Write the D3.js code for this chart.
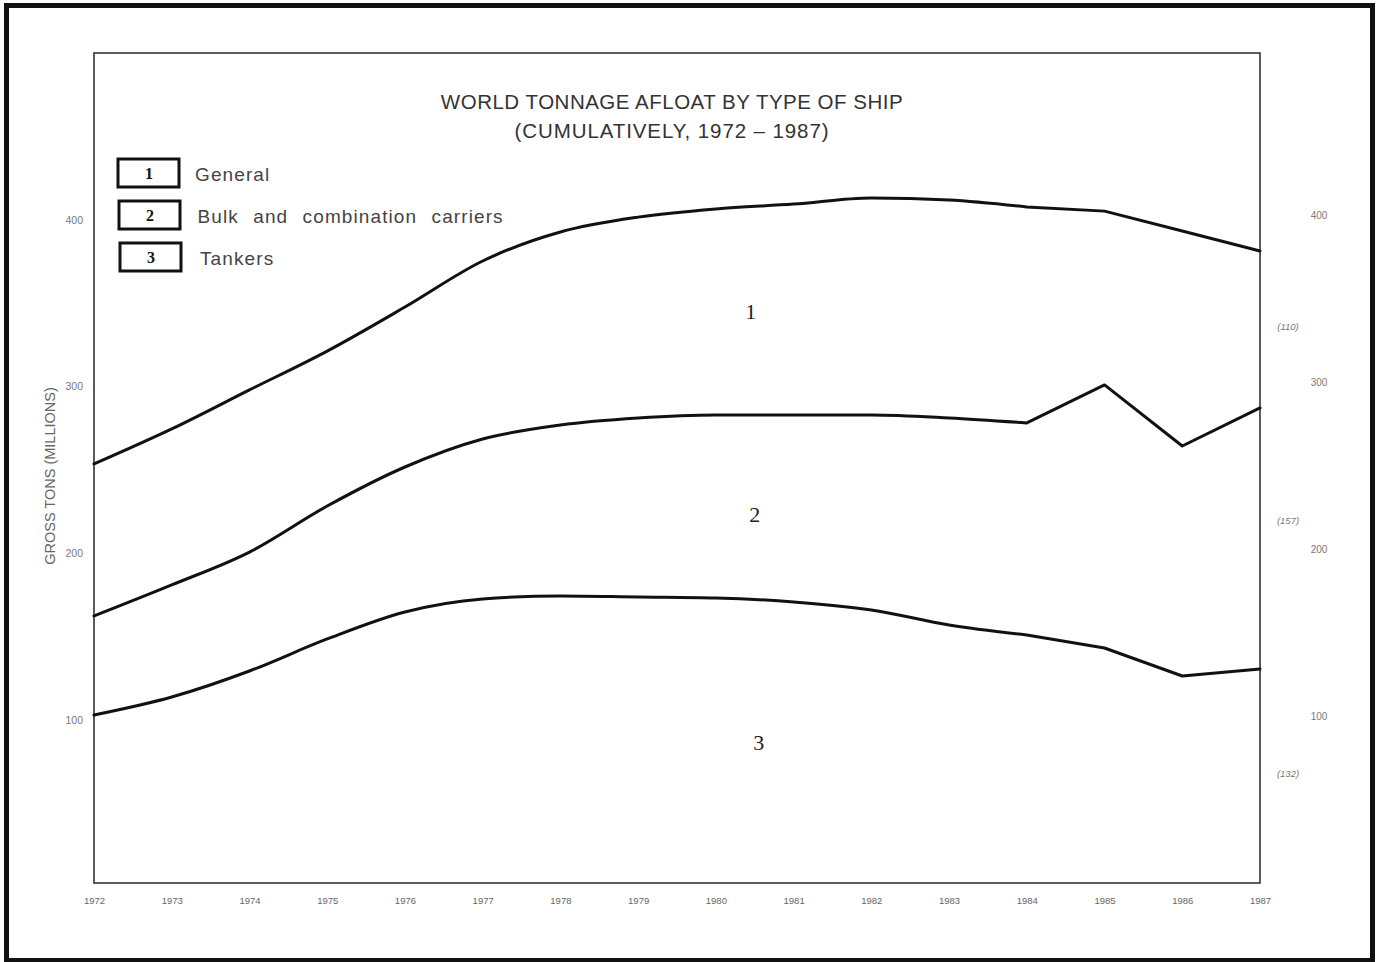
<!DOCTYPE html>
<html><head><meta charset="utf-8">
<script src="https://cdn.jsdelivr.net/npm/d3@7"></script>
<style>html,body{margin:0;padding:0;background:#fff;} svg{display:block;}</style>
</head><body><svg id="chart" width="1382" height="962"></svg>
<script>
// ---- data (gross tons, millions; cumulative) ----
const years = [1972,1973,1974,1975,1976,1977,1978,1979,1980,1981,1982,1983,1984,1985,1986,1987];
const generalCum = [253.6,274.6,298.0,321.3,347.7,375.3,392.7,401.6,406.5,409.4,413.1,411.9,407.7,405.2,393.3,381.3];
const bulkCum    = [162.5,181.1,200.8,228.4,251.8,268.6,277.0,281.2,283.0,283.0,283.0,281.2,278.2,301.0,264.4,287.2];
const tankerCum  = [103.1,113.9,129.5,148.7,164.9,172.7,174.5,173.9,173.3,170.9,166.1,157.1,151.1,143.3,126.5,130.7];
const yTicks = [100,200,300,400];
const seriesKeys = ["1","2","3"];
const seriesNames = ["General","Bulk and combination carriers","Tankers"];
const shareLabels = ["(110)","(157)","(132)"];
const shareLabelAt = [336,220,68];
const titleLines = ["WORLD TONNAGE AFLOAT BY TYPE OF SHIP","(CUMULATIVELY, 1972 \u2013 1987)"];
const yAxisTitle = "GROSS TONS (MILLIONS)";

(function(){
const svg = d3.select("#chart");
const pL = 94, pR = 1260, pT = 53, pB = 883;

const x = d3.scaleLinear().domain([1972,1987]).range([pL,pR]);
const y = d3.scaleLinear().domain([0,500]).range([887,53]);

// outer frame
svg.append("rect").attr("x",6.5).attr("y",5.5).attr("width",1366).attr("height",955)
  .attr("fill","#fff").attr("stroke","#111").attr("stroke-width",5);

// plot box
svg.append("rect").attr("x",pL).attr("y",pT).attr("width",pR-pL).attr("height",pB-pT)
  .attr("fill","none").attr("stroke","#333").attr("stroke-width",1.6);

// title
svg.append("g").selectAll("text").data(titleLines).join("text")
  .attr("x",672).attr("y",(d,i)=>101+i*29).attr("text-anchor","middle").attr("dominant-baseline","central")
  .attr("font-family","Liberation Sans, Arial, sans-serif").attr("font-size",20.5)
  .attr("letter-spacing",(d,i)=>i?0.9:0.5).attr("fill","#333").text(d=>d);

// left axis
const yAxisG = svg.append("g").attr("transform",`translate(${pL},0)`)
  .call(d3.axisLeft(y).tickValues(yTicks).tickSize(0).tickPadding(11));
yAxisG.attr("color","#7a7a7a");
yAxisG.select(".domain").remove();
yAxisG.selectAll("text").attr("font-family","Liberation Sans, Arial, sans-serif").attr("font-size",10.5).style("fill","#7a7a7a");

// right side tick labels
svg.append("g").selectAll("text").data(yTicks).join("text")
  .attr("x",1319).attr("y",d=>y(d)-4).attr("text-anchor","middle").attr("dominant-baseline","central")
  .attr("font-family","Liberation Sans, Arial, sans-serif").attr("font-size",10).style("fill","#7a7a7a").text(d=>d);

// y axis title
svg.append("text").attr("transform","translate(50,476) rotate(-90)").attr("text-anchor","middle")
  .attr("dominant-baseline","central").attr("font-family","Liberation Sans, Arial, sans-serif")
  .attr("font-size",14.5).style("fill","#666").text(yAxisTitle);

// x axis
const xAxisG = svg.append("g").attr("transform",`translate(0,${pB})`)
  .call(d3.axisBottom(x).tickValues(years).tickFormat(d3.format("d")).tickSize(0).tickPadding(14));
xAxisG.attr("color","#666");
xAxisG.select(".domain").remove();
xAxisG.selectAll("text").attr("font-family","Liberation Sans, Arial, sans-serif").attr("font-size",9.5).style("fill","#666");

// lines: smooth through 1984, straight segments afterwards
const series = [generalCum, bulkCum, tankerCum];
const split = years.indexOf(1984);
const smooth = d3.line().x(d=>x(d[0])).y(d=>y(d[1])).curve(d3.curveMonotoneX);
const straight = d3.line().x(d=>x(d[0])).y(d=>y(d[1])).curve(d3.curveLinear);
const g = svg.append("g");
series.forEach(s=>{
  const pts = s.map((v,i)=>[years[i],v]);
  const d = smooth(pts.slice(0,split+1)) + straight(pts.slice(split)).replace(/^M/,"L");
  g.append("path").attr("d",d).attr("fill","none").attr("stroke","#111").attr("stroke-width",3)
    .attr("stroke-linejoin","round").attr("stroke-linecap","round");
});

// band labels (midpoint of each band at 1980)
const idx = years.indexOf(1980);
const bandMid = series.map((s,i)=>{
  const lower = i<series.length-1 ? series[i+1][idx] : 0;
  return (s[idx]+lower)/2;
});
svg.append("g").selectAll("text").data(seriesKeys).join("text")
  .attr("x",(d,i)=>x(1980.5)-4+i*4).attr("y",(d,i)=>y(bandMid[i]) + (i===1?8:0)).attr("text-anchor","middle")
  .attr("dominant-baseline","central").attr("font-family","Liberation Serif, Times New Roman, serif")
  .attr("font-size",22).attr("fill","#222").text(d=>d);

// share labels on right
svg.append("g").selectAll("text").data(shareLabels).join("text")
  .attr("x",1288).attr("y",(d,i)=>y(shareLabelAt[i])).attr("text-anchor","middle").attr("dominant-baseline","central")
  .attr("font-family","Liberation Sans, Arial, sans-serif").attr("font-style","italic")
  .attr("font-size",9.5).style("fill","#777").text(d=>d);

// legend
const leg = svg.append("g").selectAll("g").data(seriesNames).join("g")
  .attr("transform",(d,i)=>`translate(0,${173+i*42})`);
leg.append("rect").attr("x",(d,i)=>118+i).attr("y",-14).attr("width",61).attr("height",28)
  .attr("fill","none").attr("stroke","#111").attr("stroke-width",3);
leg.append("text").attr("x",(d,i)=>149+i).attr("y",0).attr("text-anchor","middle").attr("dominant-baseline","central")
  .attr("font-family","Liberation Serif, Times New Roman, serif").attr("font-weight","bold").attr("font-size",16)
  .attr("fill","#111").text((d,i)=>seriesKeys[i]);
leg.append("text").attr("x",(d,i)=>195+i*2.5).attr("y",1).attr("dominant-baseline","central")
  .attr("font-family","Liberation Sans, Arial, sans-serif").attr("font-size",19)
  .attr("letter-spacing",1.1).attr("word-spacing",8).attr("fill","#444").text(d=>d);
})();
</script></body></html>
